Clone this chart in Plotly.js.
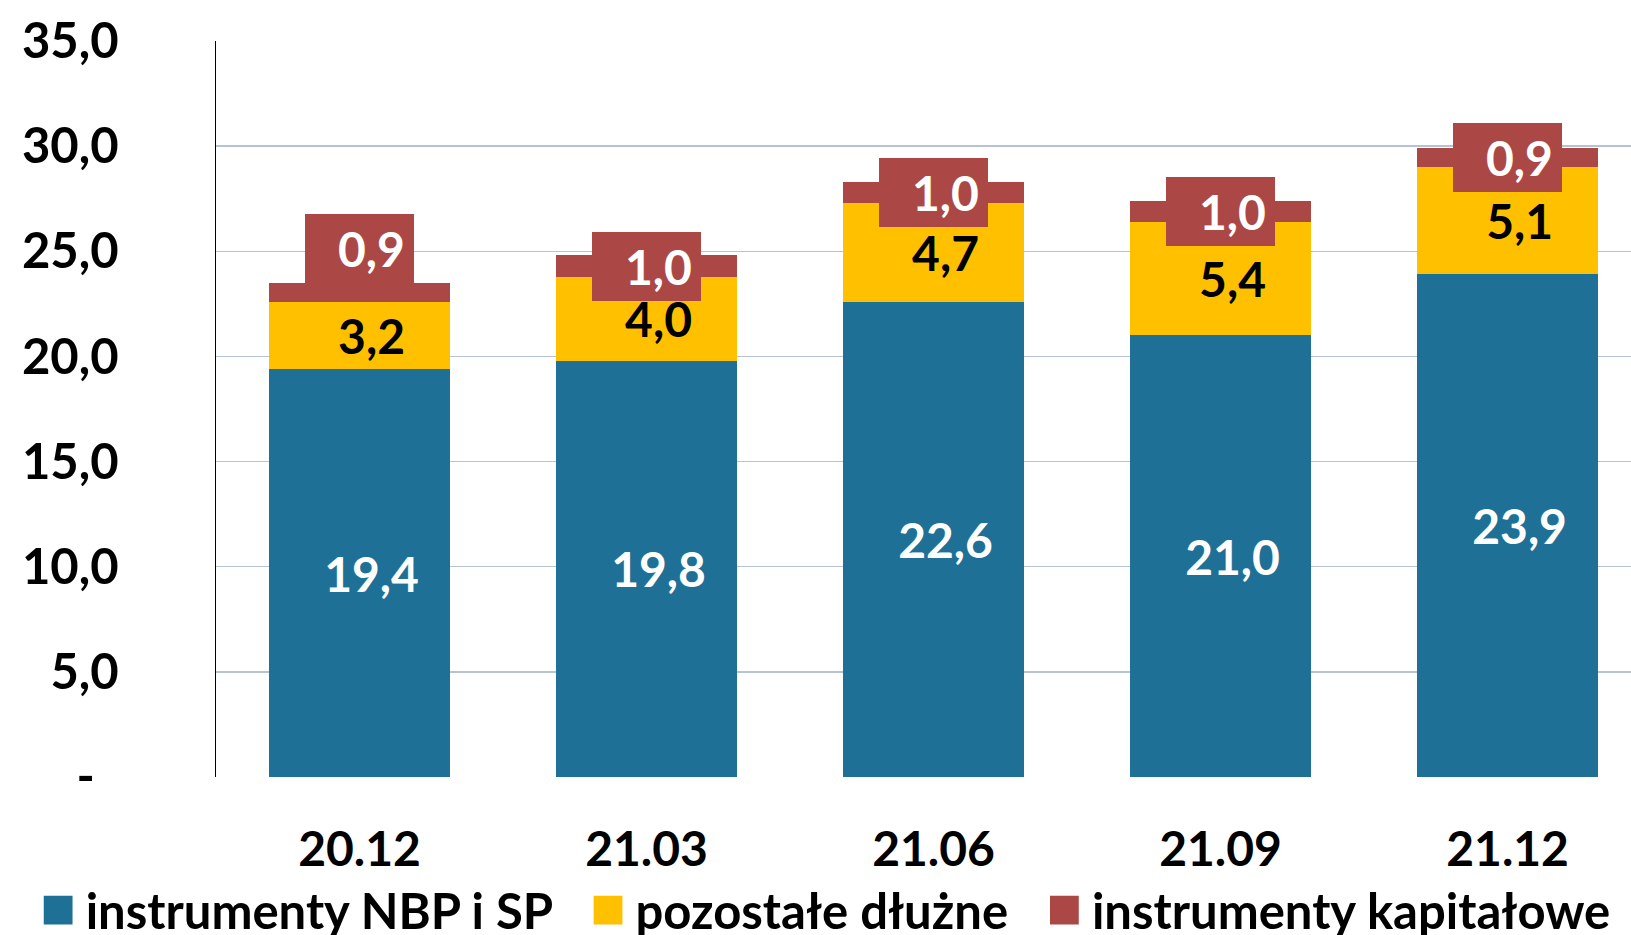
<!DOCTYPE html>
<html>
<head>
<meta charset="utf-8">
<script src="https://cdn.plot.ly/plotly-3.0.1.min.js"></script>
<style>
html,body{margin:0;padding:0;background:#fff;}
#chart{width:1631px;height:935px;}
</style>
</head>
<body>
<div id="chart"></div>
<script>
// ---- data ----
var categories = ["20.12", "21.03", "21.06", "21.09", "21.12"];
var nbpSP = [19.4, 19.8, 22.6, 21.0, 23.9];          // instrumenty NBP i SP
var pozostaleDluzne = [3.2, 4.0, 4.7, 5.4, 5.1];     // pozostałe dłużne
var kapitalowe = [0.9, 1.0, 1.0, 1.0, 0.9];          // instrumenty kapitałowe
var seriesNames = ["instrumenty NBP i SP", "pozostałe dłużne", "instrumenty kapitałowe"];
var yTickVals = [0, 5, 10, 15, 20, 25, 30, 35];
var yTickText = ["-\u00a0\u00a0", "5,0", "10,0", "15,0", "20,0", "25,0", "30,0", "35,0"];

// ---- styles ----
var FONT = "Lato, 'Open Sans', sans-serif";
var BLUE = "#1F7096", YELLOW = "#FFC000", RED = "#AB4846";
var LEGEND_PAD = "\u00a0\u00a0";

var fmt = function(v){ return v.toFixed(1).replace(".", ","); };

var traces = [
  {
    type: "bar", name: seriesNames[0] + LEGEND_PAD, x: categories, y: nbpSP,
    marker: {color: BLUE},
    text: nbpSP.map(function(v){ return "\u2002" + fmt(v); }),
    textposition: "inside", insidetextanchor: "middle", textangle: 0,
    textfont: {family: FONT, size: 48, color: "#ffffff", weight: 700},
    hoverinfo: "none"
  },
  {
    type: "bar", name: seriesNames[1] + LEGEND_PAD, x: categories, y: pozostaleDluzne,
    marker: {color: YELLOW},
    text: pozostaleDluzne.map(function(v){ return "\u2002" + fmt(v); }),
    textposition: "inside", insidetextanchor: "middle", textangle: 0,
    textfont: {family: FONT, size: 48, color: "#000000", weight: 700},
    hoverinfo: "none"
  },
  {
    type: "bar", name: seriesNames[2], x: categories, y: kapitalowe,
    marker: {color: RED},
    textposition: "none",
    hoverinfo: "none"
  }
];

var annotations = categories.map(function(c, i){
  var base = nbpSP[i] + pozostaleDluzne[i];
  var first = (i === 0);
  return {
    x: i, xref: "x", yref: "y",
    y: first ? base + kapitalowe[i] : base + kapitalowe[i] / 2,
    yanchor: first ? "bottom" : "middle",
    xanchor: "center",
    text: "\u2002" + fmt(kapitalowe[i]),
    showarrow: false,
    bgcolor: RED,
    borderpad: 0, borderwidth: 0,
    width: 109, height: 69,
    align: "center", valign: "middle",
    font: {family: FONT, size: 48, color: "#ffffff", weight: 700}
  };
});

var layout = {
  width: 1631, height: 935,
  margin: {l: 216, r: 0, t: 41, b: 158, pad: 0, autoexpand: false},
  paper_bgcolor: "#ffffff", plot_bgcolor: "#ffffff",
  barmode: "stack", bargap: 0.37,
  separators: ", ",
  showlegend: true,
  legend: {
    orientation: "h", x: -0.131, xanchor: "left", y: -0.181, yanchor: "middle",
    font: {family: FONT, size: 49, color: "#000000", weight: 700},
    itemwidth: 45, traceorder: "normal", bgcolor: "rgba(0,0,0,0)"
  },
  xaxis: {
    type: "category", range: [-0.5, 4.43],
    showline: false, showgrid: false, zeroline: false,
    ticks: "outside", ticklen: 30, tickcolor: "rgba(0,0,0,0)",
    tickfont: {family: FONT, size: 48, color: "#000000", weight: 700},
    fixedrange: true
  },
  yaxis: {
    range: [0, 35], tickvals: yTickVals, ticktext: yTickText,
    showline: true, linecolor: "#000000", linewidth: 1.5,
    showgrid: true, gridcolor: "#B7C2D5", gridwidth: 1.5,
    zeroline: true, zerolinecolor: "rgba(0,0,0,0)",
    ticks: "outside", ticklen: 86, tickcolor: "rgba(0,0,0,0)",
    tickfont: {family: FONT, size: 49, color: "#000000", weight: 700},
    fixedrange: true
  },
  annotations: annotations
};

Plotly.newPlot("chart", traces, layout, {displayModeBar: false, staticPlot: true}).then(function(gd){
  // enlarge legend swatches to match the reference
  var pts = gd.querySelectorAll(".legend .legendpoints path");
  pts.forEach(function(p){
    var t = p.getAttribute("transform") || "";
    p.setAttribute("transform", t + " scale(2.4)");
  });
});
</script>
</body>
</html>
